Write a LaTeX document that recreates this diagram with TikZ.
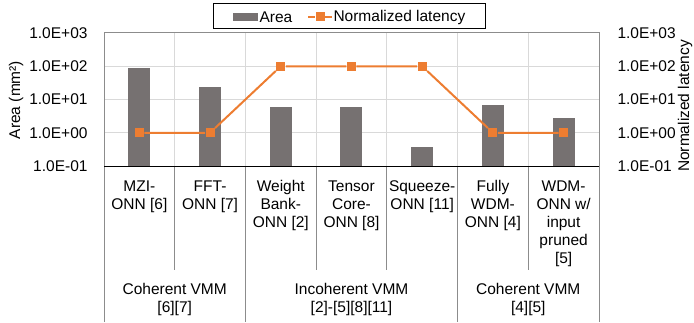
\documentclass[tikz,border=0pt]{standalone}
\usepackage{fontspec}
\setmainfont{Liberation Sans}
\usetikzlibrary{positioning}
\definecolor{cbar}{HTML}{767171}
\definecolor{corange}{HTML}{ED7D31}
\definecolor{cgrid}{HTML}{D9D9D9}
\definecolor{cframe}{HTML}{8C8C8C}
\tikzset{
  every picture/.style={x=1pt, y=1pt, line width=1pt},
  lbl/.style={font=\fontsize{15.5}{18}\selectfont, inner sep=0pt},
  catlbl/.style={lbl, align=center, anchor=north},
  areabar/.style={fill=cbar, draw=none},
  latmark/.style={fill=corange, draw=none, minimum size=9pt, inner sep=0pt},
  latency/.style={draw=corange, line width=2pt},
  gridline/.style={draw=cgrid, line width=1pt},
  sepline/.style={draw=cframe, line width=1pt},
}
\begin{document}
\begin{tikzpicture}
  \useasboundingbox (0,0) rectangle (694,322);
  % ---------- grid and ticks ----------
  \foreach \e [count=\i from 0] in {-01,+00,+01,+02,+03} {
    \draw[gridline] (104,156+33.25*\i) -- (599,156+33.25*\i);
    \node[lbl, anchor=east] (ltick\i) at (88,156+33.25*\i) {1.0E\e};
    \node[lbl, anchor=west] (rtick\i) at (617,156+33.25*\i) {1.0E\e};
  }
  \foreach \k in {1,...,6}
    \draw[gridline] (104+70.71*\k,156) -- (104+70.71*\k,289);
  \draw[sepline] (104,0) -- (104,289) -- (599,289) -- (599,0);
  % ---------- bars ----------
  \foreach \v [count=\i, evaluate=\v as \h using {156+33.25*(log10(\v)+1)}] in {88,23,5.8,5.8,0.38,6.7,2.8}
    \fill[areabar] (104+70.71*\i-35.35-11,156) rectangle (104+70.71*\i-35.35+11,\h);
  % ---------- latency ----------
  \foreach \v [count=\i, evaluate=\v as \h using {156+33.25*(log10(\v)+1)}] in {1,1,100,100,100,1,1}
    \node[latmark] (m\i) at (104+70.71*\i-35.35,\h) {};
  \draw[latency] (m1) -- (m2) -- (m3) -- (m4) -- (m5) -- (m6) -- (m7);
  % ---------- category axis ----------
  \foreach \k in {1,3,4,6}
    \draw[sepline] (104+70.71*\k,156) -- (104+70.71*\k,52);
  \foreach \k in {2,5}
    \draw[sepline] (104+70.71*\k,156) -- (104+70.71*\k,0);
  \draw[black] (104,156) -- (599,156);
  \foreach \t [count=\i] in {{MZI-\\ONN [6]}, {FFT-\\ONN [7]}, {Weight\\Bank-\\ONN [2]},
      {Tensor\\Core-\\ONN [8]}, {Squeeze-\\ONN [11]}, {Fully\\WDM-\\ONN [4]},
      {WDM-\\ONN w/\\input\\pruned\\{}[5]}}
    \node[catlbl] (cat\i) at (104+70.71*\i-35.35,142) {\t};
  \node[catlbl] (grp1) at (174.7,39) {Coherent VMM\\{}[6][7]};
  \node[catlbl] (grp2) at (351.5,39) {Incoherent VMM\\{}[2]-[5][8][11]};
  \node[catlbl] (grp3) at (528.3,39) {Coherent VMM\\{}[4][5]};
  % ---------- axis titles ----------
  \node[lbl, rotate=90] (ytitle) at (16,222) {Area (mm²)};
  \node[lbl, rotate=90, anchor=base] (y2title) at (689,216) {Normalized latency};
  % ---------- legend ----------
  \node[draw=black, minimum width=272pt, minimum height=25pt, inner sep=0pt] (legend) at (349,305.5) {};
  \node[areabar, minimum width=25pt, minimum height=8pt, inner sep=0pt] (keybar) at (245.5,305) {};
  \node[lbl, anchor=west] (keyarea) at (259,305) {Area};
  \node[latmark] (keymark) at (320,305) {};
  \coordinate (keyl) at (308,305);
  \coordinate (keyr) at (332,305);
  \draw[latency] (keyl) -- (keymark) -- (keyr);
  \node[lbl, anchor=west] (keylat) at (333,305) {Normalized latency};
\end{tikzpicture}
\end{document}
